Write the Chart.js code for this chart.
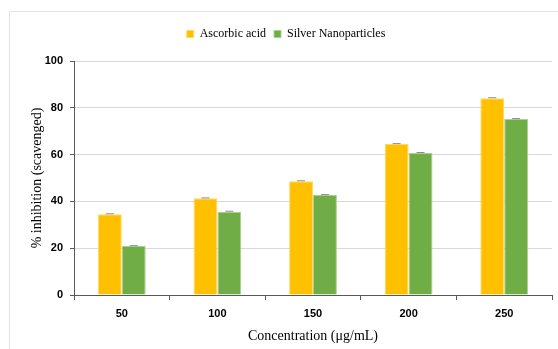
<!DOCTYPE html>
<html>
<head>
<meta charset="utf-8">
<script src="https://cdn.jsdelivr.net/npm/chart.js@4"></script>
<style>
  html, body { margin: 0; padding: 0; background: #fff; }
  .wrap { position: relative; width: 558px; height: 349px; overflow: hidden; }
  .frame { position: absolute; left: 9px; top: 11px; width: 600px; height: 400px; border: 1px solid #e3e3e3; }
  canvas { position: absolute; left: 0; top: 0; }
</style>
</head>
<body>
<div class="wrap">
  <div class="frame"></div>
  <canvas id="chart" width="558" height="349"></canvas>
</div>
<script>
// Chart data
const concentrations = ['50', '100', '150', '200', '250'];
const ascorbicAcid = [34.5, 41.3, 48.6, 64.5, 84.1];
const silverNano = [20.9, 35.6, 42.7, 60.7, 75.2];
const ascorbicErr = [0.2, 0.2, 0.2, 0.2, 0.2];
const silverErr = [0.2, 0.2, 0.2, 0.2, 0.2];
const yTicks = [0, 20, 40, 60, 80, 100];

const serif = '"Liberation Serif", "Times New Roman", serif';
const sans = '"Liberation Sans", Arial, sans-serif';
const axisColor = '#595959';

// Legend takes fixed room so the plot top lands where it should
const legendHeight = {
  id: 'legendHeight',
  beforeInit(chart) {
    const origFit = chart.legend.fit;
    chart.legend.fit = function () {
      origFit.bind(chart.legend)();
      this.height = 41;
    };
  }
};

// Tiny error caps on top of each bar
const errorCaps = {
  id: 'errorCaps',
  afterDatasetsDraw(chart) {
    const ctx = chart.ctx;
    const y = chart.scales.y;
    const errs = [ascorbicErr, silverErr];
    ctx.save();
    ctx.strokeStyle = '#8c8c8c';
    ctx.lineWidth = 1;
    chart.data.datasets.forEach((ds, i) => {
      chart.getDatasetMeta(i).data.forEach((bar, j) => {
        const v = ds.data[j];
        const top = y.getPixelForValue(v + errs[i][j]);
        ctx.beginPath();
        ctx.moveTo(bar.x - 4, top);
        ctx.lineTo(bar.x + 4, top);
        ctx.stroke();
      });
    });
    ctx.restore();
  }
};

new Chart(document.getElementById('chart'), {
  type: 'bar',
  data: {
    labels: concentrations,
    datasets: [{
      label: 'Ascorbic acid',
      data: ascorbicAcid,
      backgroundColor: '#FFC000',
      borderColor: '#FFD966',
      borderWidth: 1,
      barPercentage: 1,
      categoryPercentage: 0.5
    }, {
      label: 'Silver Nanoparticles',
      data: silverNano,
      backgroundColor: '#70AD47',
      borderColor: '#A9D18E',
      borderWidth: 1,
      barPercentage: 1,
      categoryPercentage: 0.5
    }]
  },
  options: {
    responsive: false,
    animation: false,
    layout: {
      padding: { top: 20, left: 20, right: 6, bottom: 0 }
    },
    plugins: {
      legend: {
        position: 'top',
        labels: {
          font: { family: serif, size: 12 },
          color: '#000',
          boxWidth: 7,
          boxHeight: 7,
          padding: 8
        }
      },
      tooltip: { enabled: false }
    },
    scales: {
      y: {
        min: 0,
        max: 100,
        afterFit(scale) { scale.width = 54; },
        afterBuildTicks(scale) { scale.ticks = yTicks.map(v => ({ value: v })); },
        border: { color: axisColor, width: 1 },
        grid: {
          color: '#d9d9d9',
          tickColor: axisColor,
          tickLength: 4
        },
        ticks: {
          padding: 7,
          color: '#000',
          font: { family: sans, size: 11, weight: 'bold' }
        },
        title: {
          display: true,
          text: '% inhibition (scavenged)',
          color: '#000',
          font: { family: serif, size: 14 },
          padding: { top: 9, bottom: 0 }
        }
      },
      x: {
        afterFit(scale) { scale.height = 54; },
        border: { color: axisColor, width: 1 },
        grid: {
          drawOnChartArea: false,
          tickColor: axisColor,
          tickLength: 5
        },
        ticks: {
          padding: 7,
          color: '#000',
          font: { family: sans, size: 11, weight: 'bold' }
        },
        title: {
          display: true,
          text: 'Concentration (μg/mL)',
          color: '#000',
          font: { family: serif, size: 14 },
          padding: { top: 0, bottom: 4 }
        }
      }
    }
  },
  plugins: [legendHeight, errorCaps]
});
</script>
</body>
</html>
